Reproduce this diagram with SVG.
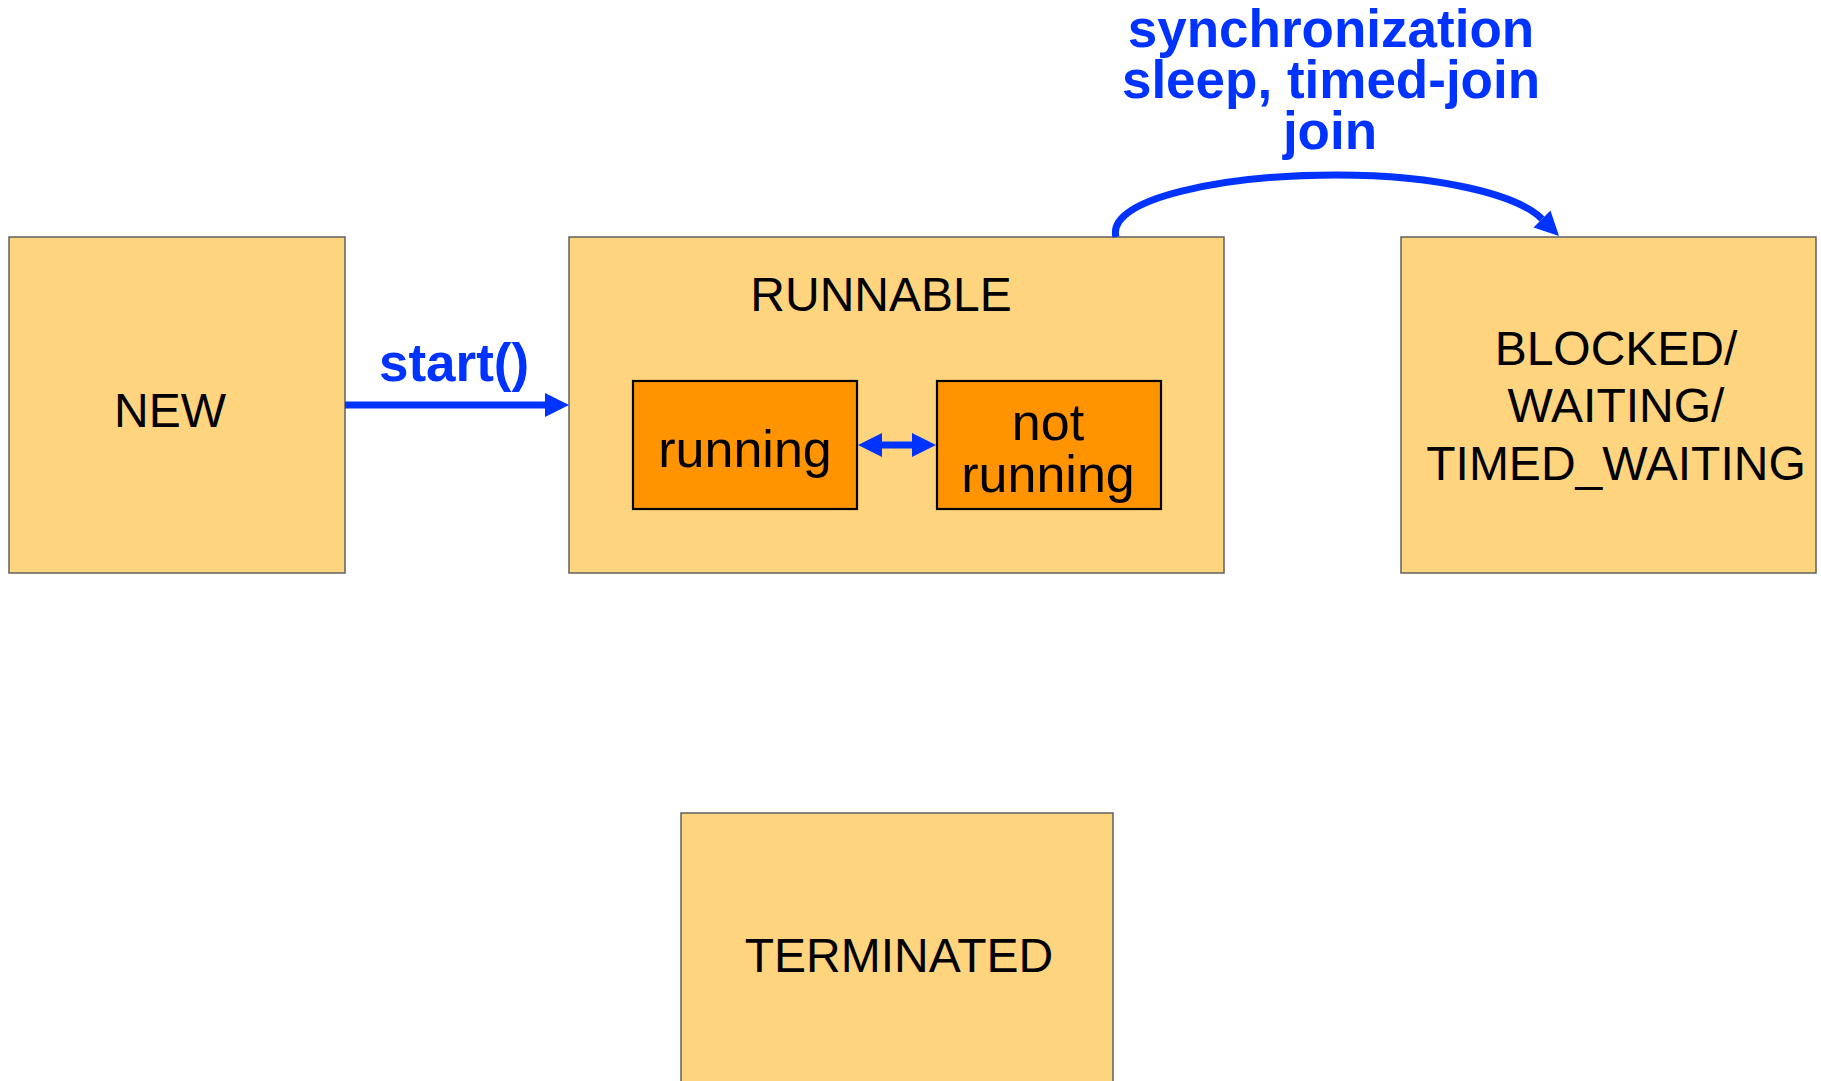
<svg xmlns="http://www.w3.org/2000/svg" width="1821" height="1081" viewBox="0 0 1821 1081">
  <style>
    .state { fill: #FFD47F; stroke: #606060; stroke-width: 1.5; }
    .sub { fill: #FF9400; stroke: #000000; stroke-width: 2.2; }
    .lbl { font-family: "Liberation Sans", Arial, sans-serif; font-size: 48px; fill: #000000; text-anchor: middle; }
    .sublbl { font-family: "Liberation Sans", Arial, sans-serif; font-size: 52px; fill: #000000; text-anchor: middle; }
    .edge { font-family: "Liberation Sans", Arial, sans-serif; font-size: 53px; font-weight: bold; fill: #0033FF; text-anchor: middle; }
    .conn { fill: none; stroke: #0033FF; stroke-width: 7; }
  </style>
  <defs>
    <marker id="head" markerUnits="userSpaceOnUse" markerWidth="26" markerHeight="26" refX="0" refY="13" orient="auto">
      <path d="M0,1 L24,13 L0,25 Z" fill="#0033FF"/>
    </marker>
    <marker id="headStart" markerUnits="userSpaceOnUse" markerWidth="26" markerHeight="26" refX="26" refY="13" orient="auto">
      <path d="M26,1 L2,13 L26,25 Z" fill="#0033FF"/>
    </marker>
  </defs>
  <rect width="1821" height="1081" fill="#FFFFFF"/>

  <g id="new">
    <rect class="state" x="9" y="237" width="336" height="336"/>
    <text class="lbl" x="170" y="427">NEW</text>
  </g>

  <g id="runnable">
    <rect class="state" x="569" y="237" width="655" height="336"/>
    <text class="lbl" x="881" y="311">RUNNABLE</text>
  </g>

  <g id="running">
    <rect class="sub" x="633" y="381" width="224" height="128"/>
    <text class="sublbl" x="745" y="467">running</text>
  </g>

  <g id="not-running">
    <rect class="sub" x="937" y="381" width="224" height="128"/>
    <text class="sublbl" x="1048" y="440">not</text>
    <text class="sublbl" x="1048" y="492">running</text>
  </g>

  <g id="blocked">
    <rect class="state" x="1401" y="237" width="415" height="336"/>
    <text class="lbl" x="1616" y="365">BLOCKED/</text>
    <text class="lbl" x="1616" y="422">WAITING/</text>
    <text class="lbl" x="1616" y="480">TIMED_WAITING</text>
  </g>

  <g id="terminated">
    <rect class="state" x="681" y="813" width="432" height="280"/>
    <text class="lbl" x="899" y="972">TERMINATED</text>
  </g>

  <g id="connectors">
    <!-- NEW to RUNNABLE -->
    <path class="conn" d="M345,405 L545,405" marker-end="url(#head)"/>
    <text class="edge" x="454" y="381">start()</text>
    <!-- running and not running swap both ways -->
    <path class="conn" d="M882,445 L912,445" stroke-width="6" marker-start="url(#headStart)" marker-end="url(#head)"/>
    <!-- RUNNABLE to BLOCKED/WAITING -->
    <path class="conn" d="M1116,237 C1106,198 1225,175 1337,175 C1440,175 1518,195 1542,219" marker-end="url(#head)"/>
    <text class="edge" x="1331" y="47">synchronization</text>
    <text class="edge" x="1331" y="98">sleep, timed-join</text>
    <text class="edge" x="1330" y="149">join</text>
  </g>
</svg>
